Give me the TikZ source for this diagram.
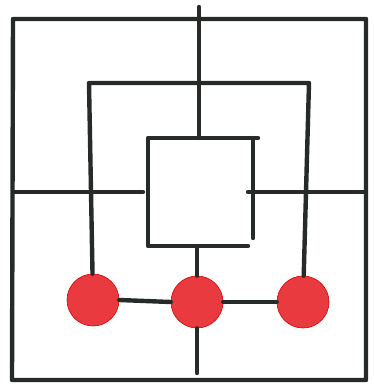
\documentclass[tikz,border=0pt]{standalone}
\usetikzlibrary{positioning}
\definecolor{ink}{HTML}{262B28}
\definecolor{piece}{HTML}{E93A3F}
\tikzset{board/.style={line width=4.4pt,draw=ink,line cap=round,line join=round},
  stone/.style={circle,fill=piece,draw=red!85!black,line width=0.6pt,minimum size=52pt,inner sep=0pt}}
\begin{document}
\begin{tikzpicture}[x=1pt,y=-1pt]
\useasboundingbox (0,0) rectangle (373,389);
% the three stones
\node[stone] (sl) at (93,300) {};
\node[stone] (sm) at (197,302) {};
\node[stone] (sr) at (303,302) {};
% outer square
\draw[board] (13,19)--(366,19)--(366,380)--(12,380)--cycle;
% middle square, its bottom goes through the stones
\draw[board] (sl)--(89,83)--(309,83)--(sr);
\draw[board] (sl.east)--(sm.west);
\draw[board] (sm.east)--(sr.west);
% inner square
\draw[board] (258,138)--(148,138)--(148,246)--(248,246);
\draw[board] (253,138)--(253,238);
% cross lines
\coordinate (tc) at (199,7);
\coordinate (it) at (199,138);
\draw[board] (tc)--(it);
\draw[board] (13,192)--(143,192);
\draw[board] (248,192)--(366,192);
\draw[board] (197,246)--(sm);
\draw[board] (sm)--(197,373);
\end{tikzpicture}
\end{document}
